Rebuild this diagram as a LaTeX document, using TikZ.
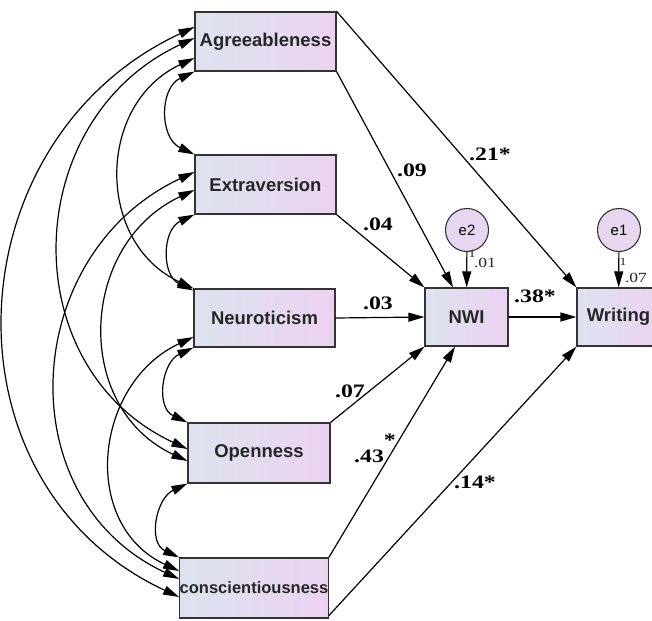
\documentclass[tikz,border=0pt]{standalone}
\usepackage{fontspec}
\setmainfont{Liberation Sans}
\newfontfamily\coeffont[FakeStretch=1.25]{Liberation Serif}
\usetikzlibrary{arrows.meta}

\definecolor{boxleft}{HTML}{DDE2EE}
\definecolor{boxright}{HTML}{EBD3F0}
\definecolor{errfill}{HTML}{E6D6F0}
\definecolor{edge}{HTML}{333333}

\tikzset{
  var/.style={draw=edge, line width=1.2pt, left color=boxleft, right color=boxright,
    minimum width=141pt, minimum height=59pt, inner sep=0pt,
    font=\fontsize{18.5}{20}\selectfont\bfseries, text=black!85},
  err/.style={circle, draw=edge, line width=1.1pt, fill=errfill,
    minimum size=43pt, inner sep=0pt, font=\fontsize{15}{17}\selectfont},
  coef/.style={font=\coeffont\fontsize{19}{21}\selectfont\bfseries, inner sep=0pt},
  fixlabel/.style={font=\coeffont\fontsize{14}{16}\selectfont, text=black!85, inner sep=0pt},
  reg/.style={-{Triangle[length=16pt,width=9pt]}, line width=1.2pt},
  cov/.style={{Triangle[length=16pt,width=9pt]}-{Triangle[length=16pt,width=9pt]},
    line width=1.2pt, out=205, in=155, looseness=1.2}
}

\begin{document}
\begin{tikzpicture}[x=1pt,y=1pt]
\useasboundingbox (0,0) rectangle (652,-620);
  % exogenous variables
  \node[var] (agree) at (265.5,-41.5) {Agreeableness};
  \node[var] (extra) at (265.5,-184.5) {Extraversion};
  \node[var, minimum height=58pt] (neuro) at (264.5,-318) {Neuroticism};
  \node[var, minimum width=142pt, minimum height=60pt] (open) at (259,-453) {Openness};
  \node[var, minimum width=142pt, minimum height=60pt,
    font=\fontsize{16.5}{18}\selectfont\bfseries] (consc) at (254,-588) {conscientiousness};
  % endogenous variables
  \node[var, minimum width=83pt, minimum height=58pt] (nwi) at (466.5,-317) {NWI};
  \node[var, minimum width=83pt, minimum height=58pt] (writ) at (618.5,-317) {Writing};
  % errors
  \node[err] (e2) at (467,-230) {e2};
  \node[err] (e1) at (619,-230) {e1};
  \draw[reg] (e2) -- (nwi);
  \draw[reg] (e1) -- (writ);
  \node[fixlabel, font=\coeffont\fontsize{11}{12}\selectfont] (one2) at (472,-254) {1};
  \node[fixlabel] (v2) at (485,-263) {.01};
  \node[fixlabel, font=\coeffont\fontsize{11}{12}\selectfont] (one1) at (623,-262) {1};
  \node[fixlabel] (v1) at (636,-278) {.07};
  % paths
  \draw[reg] (agree.north east) -- (writ.north west);
  \draw[reg] (agree.south east) -- ([xshift=-13.5pt]nwi.north);
  \draw[reg] (extra.south east) -- (nwi.north west);
  \draw[reg] (neuro.east) -- (nwi.west);
  \draw[reg] (nwi.east) -- (writ.west);
  \draw[reg] (open.north east) -- (nwi.south west);
  \draw[reg] (consc.north east) -- ([xshift=-11.5pt]nwi.south);
  \draw[reg] ([yshift=3pt]consc.south east) -- (writ.south west);
  \node[coef] (c21) at (490,-154) {.21*};
  \node[coef] (c09) at (412,-170) {.09};
  \node[coef] (c04) at (378,-224) {.04};
  \node[coef] (c03) at (378,-303) {.03};
  \node[coef] (c38) at (535,-296) {.38*};
  \node[coef] (c07) at (350,-391) {.07};
  \node[coef, anchor=base west] (c43) at (354,-462) {.43\raisebox{0.8em}{*}};
  \node[coef] (c14) at (475,-482) {.14*};
  % covariances
  \draw[cov] (agree.south west) to (extra.north west);
  \draw[cov] (extra.south west) to ([yshift=-2pt]neuro.north west);
  \draw[cov] (neuro.south west) to (open.north west);
  \draw[cov] (open.south west) to (consc.north west);
  \draw[cov] ([yshift=-16.5pt]agree.west) to (neuro.north west);
  \draw[cov] ([yshift=-5.5pt]extra.west) to ([yshift=-8pt]open.west);
  \draw[cov] ([yshift=-19pt]neuro.west) to ([yshift=17pt]consc.west);
  \draw[cov] ([yshift=3.5pt]agree.west) to ([yshift=4pt]open.west);
  \draw[cov] ([yshift=12.5pt]extra.west) to ([yshift=9pt]consc.west);
  \draw[cov] ([yshift=14.5pt]agree.west) to ([yshift=-9pt]consc.west);
\end{tikzpicture}
\end{document}
